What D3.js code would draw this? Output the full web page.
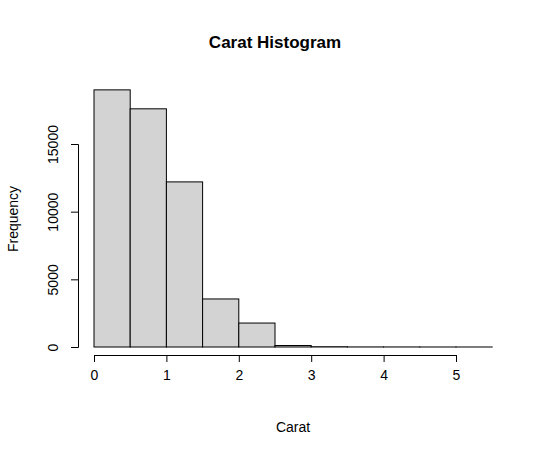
<!DOCTYPE html>
<html><head><script src="https://cdn.jsdelivr.net/npm/d3@7"></script>
<style>body{margin:0;background:#fff}</style></head><body>
<svg id="c" width="550" height="456"></svg>
<script>
const binStarts = [0,0.5,1,1.5,2,2.5,3,3.5,4,4.5,5];
const binWidth = 0.5;
const counts = [19000,17600,12200,3550,1770,110,20,5,4,2,1];
const xTicks = [0,1,2,3,4,5];
const yTicks = [0,5000,10000,15000];
const svg = d3.select("#c");
const font = "Liberation Sans, Arial, sans-serif";
const x = d3.scaleLinear().domain([0,5]).range([94,456]);
const y = d3.scaleLinear().domain([0,15000]).range([347,144]);
svg.selectAll("rect").data(counts).enter().append("rect")
 .attr("x",(d,i)=>x(binStarts[i])).attr("width",(d,i)=>x(binStarts[i]+binWidth)-x(binStarts[i]))
 .attr("y",d=>y(d)).attr("height",d=>y(0)-y(d))
 .attr("fill","#d3d3d3").attr("stroke","#000").attr("stroke-width",1);
const xa = svg.append("g").attr("transform","translate(0,355)")
 .call(d3.axisBottom(x).tickValues(xTicks).tickSize(7).tickPadding(8).tickFormat(d3.format("d")));
const ya = svg.append("g").attr("transform","translate(78,0)")
 .call(d3.axisLeft(y).tickValues(yTicks).tickSize(7).tickPadding(5).tickFormat(d3.format("d")));
[xa,ya].forEach(a=>{a.selectAll("text").attr("font-family",font).attr("font-size",14).attr("fill","#000");a.selectAll("line,path").attr("stroke","#000");});
ya.selectAll("text").attr("x",0).attr("y",0).attr("dy",0).attr("text-anchor","middle")
 .attr("transform","translate(-20,0) rotate(-90)");
svg.append("text").attr("x",275).attr("y",48).attr("text-anchor","middle").attr("font-family",font).attr("font-weight","bold").attr("font-size",17).text("Carat Histogram");
svg.append("text").attr("x",293).attr("y",432).attr("text-anchor","middle").attr("font-family",font).attr("font-size",14).text("Carat");
svg.append("text").attr("transform","translate(18,219) rotate(-90)").attr("text-anchor","middle").attr("font-family",font).attr("font-size",14).text("Frequency");
</script></body></html>
